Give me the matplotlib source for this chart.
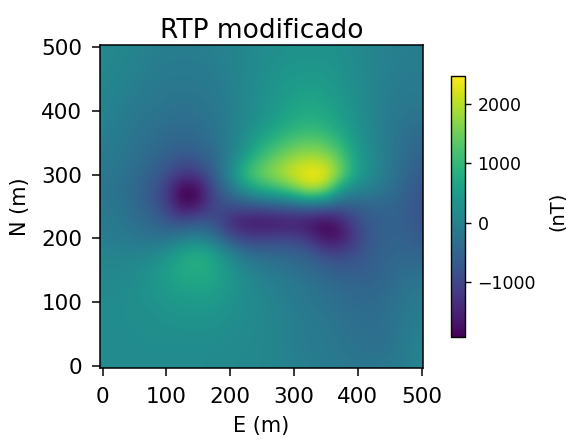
import numpy as np
import matplotlib
matplotlib.use("Agg")
import matplotlib.pyplot as plt

north = [500, 475, 450, 425, 400, 375, 350, 325, 300, 275, 250, 225, 200, 175, 150, 125, 100, 75, 50, 25, 0]
east = list(range(0, 501, 25))

r500 = [150, 100, 50, 0, -50, -50, -50, 0, 50, 100, 200, 250, 300, 300, 300, 250, 150, 50, 0, -50, -50]
r475 = [125, 75, 25, -50, -100, -100, -100, -50, 25, 100, 225, 300, 350, 375, 350, 275, 175, 50, -25, -75, -75]
r450 = [100, 50, 0, -100, -150, -150, -150, -100, 0, 125, 250, 350, 425, 475, 425, 325, 200, 50, -50, -100, -100]
r425 = [75, 0, -75, -150, -200, -225, -200, -150, -25, 125, 275, 425, 525, 600, 525, 400, 225, 50, -75, -150, -150]
r400 = [50, -50, -150, -200, -250, -300, -250, -200, -50, 125, 300, 500, 650, 750, 650, 475, 250, 50, -100, -200, -200]
r375 = [0, -100, -200, -300, -350, -400, -350, -250, -50, 175, 400, 650, 850, 950, 850, 600, 300, 75, -150, -300, -350]
r350 = [-50, -150, -250, -350, -450, -500, -450, -300, -50, 300, 750, 1050, 1300, 1400, 1300, 900, 400, 100, -150, -350, -450]
r325 = [-100, -200, -300, -450, -600, -800, -700, -450, 0, 600, 1150, 1500, 1800, 1950, 1800, 1300, 500, 150, -150, -400, -550]
r300 = [-150, -250, -400, -550, -850, -1250, -1150, -600, 150, 1150, 1550, 1900, 2250, 2500, 2450, 1500, 550, 150, -200, -450, -700]
r275 = [-200, -300, -450, -700, -1150, -2050, -1950, -850, -300, 350, 750, 1000, 1400, 2000, 1600, 350, 50, -100, -300, -550, -800]
r250 = [-150, -250, -400, -650, -1050, -1850, -1600, -1000, -850, -850, -750, -700, -600, -500, -550, -700, -600, -500, -500, -600, -850]
r225 = [-100, -200, -300, -450, -700, -850, -700, -800, -1450, -1700, -1750, -1700, -1650, -1750, -1950, -1550, -900, -650, -550, -600, -800]
r200 = [-50, -100, -200, -250, -250, -50, 50, -250, -800, -1100, -1100, -1050, -1050, -1300, -1800, -1700, -1050, -650, -550, -550, -700]
r175 = [50, 50, 50, 100, 300, 650, 850, 600, 100, -300, -400, -450, -500, -650, -950, -1000, -800, -600, -500, -450, -550]
r150 = [100, 100, 150, 300, 550, 750, 800, 700, 350, 100, -100, -200, -300, -400, -550, -650, -650, -550, -450, -350, -350]
r125 = [150, 150, 250, 350, 500, 600, 650, 600, 400, 200, 50, -50, -150, -250, -350, -450, -500, -500, -400, -250, -200]
r100 = [200, 200, 250, 300, 400, 450, 450, 450, 300, 200, 100, 0, -100, -200, -250, -350, -400, -400, -300, -200, -100]
r075 = [200, 200, 250, 250, 300, 350, 350, 350, 250, 200, 100, 50, -50, -150, -200, -300, -350, -350, -300, -150, -50]
r050 = [200, 200, 200, 250, 250, 250, 250, 250, 200, 150, 100, 50, -50, -100, -150, -250, -300, -350, -300, -100, 0]
r025 = [200, 200, 200, 200, 200, 200, 200, 200, 150, 150, 100, 50, -50, -100, -150, -200, -250, -300, -250, -100, 50]
r000 = [200, 200, 200, 200, 200, 200, 200, 150, 150, 100, 100, 50, 0, -50, -100, -150, -200, -200, -150, -50, 50]

rows = [r500, r475, r450, r425, r400, r375, r350, r325, r300, r275, r250,
        r225, r200, r175, r150, r125, r100, r075, r050, r025, r000]
vmin_nT, vmax_nT = -1937, 2480
ticks_xy = [0, 100, 200, 300, 400, 500]
ticks_cb = [-1000, 0, 1000, 2000]

W, H = 566, 440
fig = plt.figure(figsize=(W / 100, H / 100), dpi=100)
ax = fig.add_axes([100 / W, 1 - 368 / H, 323 / W, 323.5 / H])
step = east[1] - east[0]
im = ax.imshow(np.array(rows, float), cmap="viridis", vmin=vmin_nT, vmax=vmax_nT,
               interpolation="bicubic", aspect="auto",
               extent=[east[0] - step / 2, east[-1] + step / 2,
                       north[-1] - step / 2, north[0] + step / 2])
ax.set_xlim(-4.2, 502)
ax.set_ylim(-3.6, 504)
ax.set_xticks(ticks_xy)
ax.set_yticks(ticks_xy)
ax.tick_params(labelsize=15.5, length=5.8, width=1.1)
ax.tick_params(axis="x", pad=8)
ax.tick_params(axis="y", pad=7)
ax.set_xlabel("E (m)", fontsize=15, labelpad=6)
ax.set_ylabel("N (m)", fontsize=15, labelpad=8)
ax.set_title("RTP modificado", fontsize=19, pad=4)
for s in ax.spines.values():
    s.set_linewidth(1.1)

cax = fig.add_axes([451 / W, 1 - 337 / H, 14 / W, 261 / H])
cb = fig.colorbar(im, cax=cax, ticks=ticks_cb)
cb.ax.tick_params(labelsize=12.5, length=4, width=1, pad=5)
cb.outline.set_linewidth(1)
fig.text(557 / W, 1 - 211 / H, "(nT)", rotation=90, fontsize=14, ha="center", va="center")

fig.savefig("out.png", dpi=100)
